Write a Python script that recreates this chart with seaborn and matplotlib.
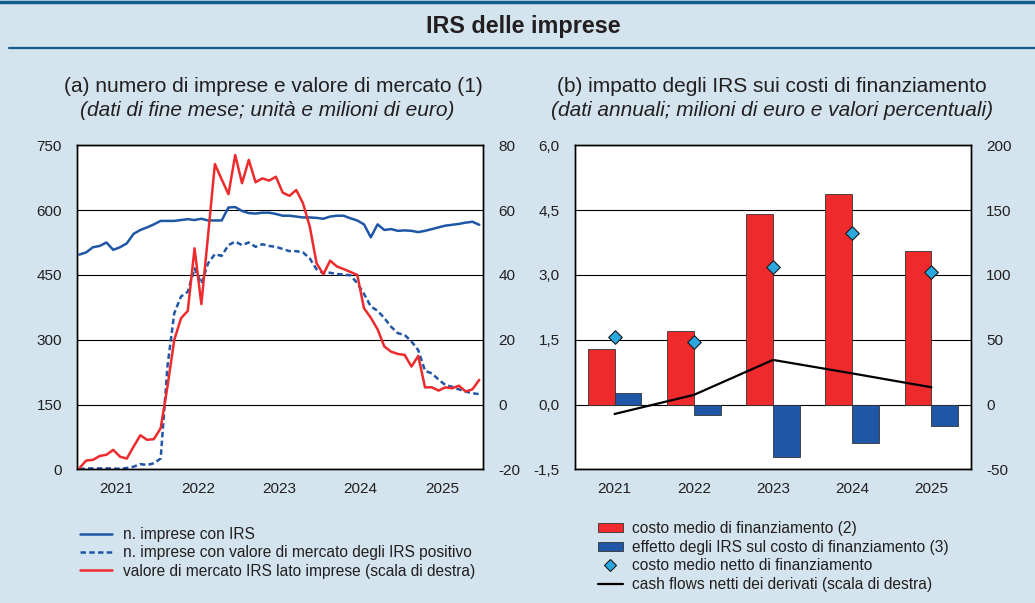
import numpy as np
import pandas as pd
import matplotlib.pyplot as plt
import seaborn as sns
from matplotlib.lines import Line2D
from matplotlib.patches import Patch

# --- Dati pannello (a): fine mese, gen 2021 - dic 2025 ---
imprese_irs = [497, 502, 514, 517, 525, 508, 514, 523, 545, 554,
               560, 567, 575, 575, 575, 577, 579, 577, 580, 576,
               576, 576, 606, 607, 598, 593, 592, 594, 594, 591,
               587, 587, 585, 583, 583, 582, 580, 585, 587, 587,
               581, 576, 567, 537, 567, 554, 556, 552, 553, 552,
               549, 552, 556, 560, 564, 566, 568, 571, 573, 566]
imprese_positivo = [0, 2, 2, 2, 2, 2, 1, 3, 6, 12,
                    10, 14, 25, 238, 361, 400, 411, 465, 430, 477,
                    498, 494, 519, 527, 519, 525, 515, 521, 517, 515,
                    510, 505, 505, 502, 488, 463, 454, 455, 452, 451,
                    449, 431, 406, 377, 367, 350, 330, 315, 311, 296,
                    276, 228, 222, 208, 195, 191, 185, 180, 176, 174]
valore_mercato = [-19.7, -17.3, -17.1, -15.9, -15.5, -14.0, -16.1, -16.7, -13.0, -9.5,
                  -10.9, -10.7, -7.3, 5.5, 19.9, 26.6, 28.9, 48.2, 31.0, 52.3,
                  74.2, 69.5, 64.9, 77.0, 68.3, 75.5, 68.6, 69.8, 69.1, 70.3,
                  65.4, 64.4, 66.2, 62.1, 54.9, 43.6, 40.2, 44.4, 42.6, 41.8,
                  40.9, 40.0, 29.7, 26.8, 23.2, 17.9, 16.3, 15.6, 15.3, 11.7,
                  15.0, 5.3, 5.3, 4.3, 5.3, 5.0, 5.8, 4.0, 4.7, 7.6]
mesi = np.arange(len(imprese_irs))
anni_a = ['2021', '2022', '2023', '2024', '2025']

# --- Dati pannello (b): annuali ---
anni = ['2021', '2022', '2023', '2024', '2025']
costo_medio = [1.28, 1.69, 4.40, 4.87, 3.56]
effetto_irs = [0.27, -0.25, -1.22, -0.90, -0.49]
costo_netto = [1.56, 1.45, 3.19, 3.97, 3.07]
cash_flows = [-7.3, 7.4, 34.4, 24.0, 13.3]

# colori
sfondo = '#D3E4EE'
blu = '#1F56A5'
rosso = '#EE2A2D'
azzurro = '#2AA8DF'
bordo = '#115E8D'
testo = '#231F20'

sns.set_style('white')
plt.rcParams['font.family'] = ['Liberation Sans', 'DejaVu Sans']
plt.rcParams['text.color'] = testo
plt.rcParams['axes.labelcolor'] = testo

fig = plt.figure(figsize=(10.35, 6.03), dpi=100, facecolor=sfondo)

# titolo e linee della cornice
fig.add_artist(Line2D([0, 1], [1 - 1.5 / 603] * 2, transform=fig.transFigure, color=bordo, lw=2.5))
fig.add_artist(Line2D([9 / 1035, 1], [1 - 48 / 603] * 2, transform=fig.transFigure, color=bordo, lw=1.6))
fig.text(523 / 1035, 1 - 27 / 603, 'IRS delle imprese', ha='center', va='center',
         fontsize=16.8, weight='bold')

# sottotitoli
fig.text(273 / 1035, 1 - 87 / 603, '(a) numero di imprese e valore di mercato (1)',
         ha='center', va='center', fontsize=15)
fig.text(267 / 1035, 1 - 110 / 603, '(dati di fine mese; unità e milioni di euro)',
         ha='center', va='center', fontsize=15, style='italic')
fig.text(772 / 1035, 1 - 87 / 603, '(b) impatto degli IRS sui costi di finanziamento',
         ha='center', va='center', fontsize=15)
fig.text(772 / 1035, 1 - 110 / 603, '(dati annuali; milioni di euro e valori percentuali)',
         ha='center', va='center', fontsize=15, style='italic')

bottom = 1 - 469.3 / 603
height = (469.3 - 145.3) / 603


def stile_assi(ax):
    ax.set_facecolor('white')
    for s in ax.spines.values():
        s.set_visible(True)
        s.set_color('black')
        s.set_linewidth(1.0)
    ax.tick_params(length=0, labelsize=11, colors=testo, pad=11)
    ax.set_xlabel('')
    ax.set_ylabel('')


# --- Pannello (a) ---
ax1 = fig.add_axes([77.3 / 1035, bottom, 406 / 1035, height])
stile_assi(ax1)
ax1.set_axisbelow(True)
ax1.yaxis.grid(True, color='black', lw=0.8)
sns.lineplot(x=mesi, y=imprese_irs, ax=ax1, color=blu, lw=1.8)
sns.lineplot(x=mesi, y=imprese_positivo, ax=ax1, color=blu, lw=1.8, linestyle=(0, (2.2, 1.3)))
ax1.set_ylim(0, 750)
ax1.set_yticks([0, 150, 300, 450, 600, 750])
ax1.set_xlim(-0.3, 59.6)
ax1.set_xticks([5.5, 17.5, 29.5, 41.5, 53.5], anni_a)
ax1.tick_params(axis='x', pad=9)

ax1b = ax1.twinx()
stile_assi(ax1b)
sns.lineplot(x=mesi, y=valore_mercato, ax=ax1b, color=rosso, lw=1.8)
ax1b.set_ylim(-20, 80)
ax1b.set_yticks([-20, 0, 20, 40, 60, 80], ['-20', '0', '20', '40', '60', '80'])
ax1b.grid(False)

# --- Pannello (b) ---
ax2 = fig.add_axes([575 / 1035, bottom, 396 / 1035, height])
stile_assi(ax2)
ax2.set_axisbelow(True)
ax2.yaxis.grid(True, color='black', lw=0.8)
df_b = pd.DataFrame({'anno': anni * 2,
                     'valore': costo_medio + effetto_irs,
                     'serie': ['costo'] * 5 + ['effetto'] * 5})
sns.barplot(data=df_b, x='anno', y='valore', hue='serie', palette=[rosso, blu],
            width=0.675, saturation=1, edgecolor='#333333', linewidth=0.6,
            errorbar=None, legend=False, ax=ax2)
sns.scatterplot(x=np.arange(len(anni)), y=costo_netto, ax=ax2, marker='D', s=48,
                color=azzurro, edgecolor='#1A1A1A', linewidth=0.8, zorder=5)
ax2.set_ylim(-1.5, 6.0)
tick_b = [-1.5, 0.0, 1.5, 3.0, 4.5, 6.0]
ax2.set_yticks(tick_b, [f'{v:.1f}'.replace('.', ',') for v in tick_b])
ax2.set_xlim(-0.5, 4.5)
ax2.tick_params(axis='x', pad=9)
ax2.set_xlabel('')
ax2.set_ylabel('')

ax2b = ax2.twinx()
stile_assi(ax2b)
sns.lineplot(x=np.arange(len(anni)), y=cash_flows, ax=ax2b, color='black', lw=1.6)
ax2b.set_ylim(-50, 200)
ax2b.set_yticks([-50, 0, 50, 100, 150, 200], ['-50', '0', '50', '100', '150', '200'])
ax2b.grid(False)

# --- Legende ---
h_a = [Line2D([], [], color=blu, lw=1.8),
       Line2D([], [], color=blu, lw=1.8, linestyle=(0, (2.2, 1.3))),
       Line2D([], [], color=rosso, lw=1.8)]
l_a = ['n. imprese con IRS',
       'n. imprese con valore di mercato degli IRS positivo',
       'valore di mercato IRS lato imprese (scala di destra)']
fig.legend(h_a, l_a, loc='upper left', bbox_to_anchor=(80 / 1035, 1 - 527 / 603),
           frameon=False, fontsize=11.2, handlelength=2.05, handletextpad=0.7,
           labelspacing=0.22, borderpad=0, borderaxespad=0)

h_b = [Patch(facecolor=rosso, edgecolor='#333333', lw=0.6),
       Patch(facecolor=blu, edgecolor='#333333', lw=0.6),
       Line2D([], [], marker='D', ls='none', markersize=6.5, color=azzurro,
              markeredgecolor='#1A1A1A', markeredgewidth=0.8),
       Line2D([], [], color='black', lw=1.6)]
l_b = ['costo medio di finanziamento (2)',
       'effetto degli IRS sul costo di finanziamento (3)',
       'costo medio netto di finanziamento',
       'cash flows netti dei derivati (scala di destra)']
fig.legend(h_b, l_b, loc='upper left', bbox_to_anchor=(598 / 1035, 1 - 521 / 603),
           frameon=False, fontsize=11.2, handlelength=1.6, handleheight=0.55,
           handletextpad=0.6, labelspacing=0.24, borderpad=0, borderaxespad=0)

plt.savefig('out.png', dpi=100, facecolor=sfondo)
